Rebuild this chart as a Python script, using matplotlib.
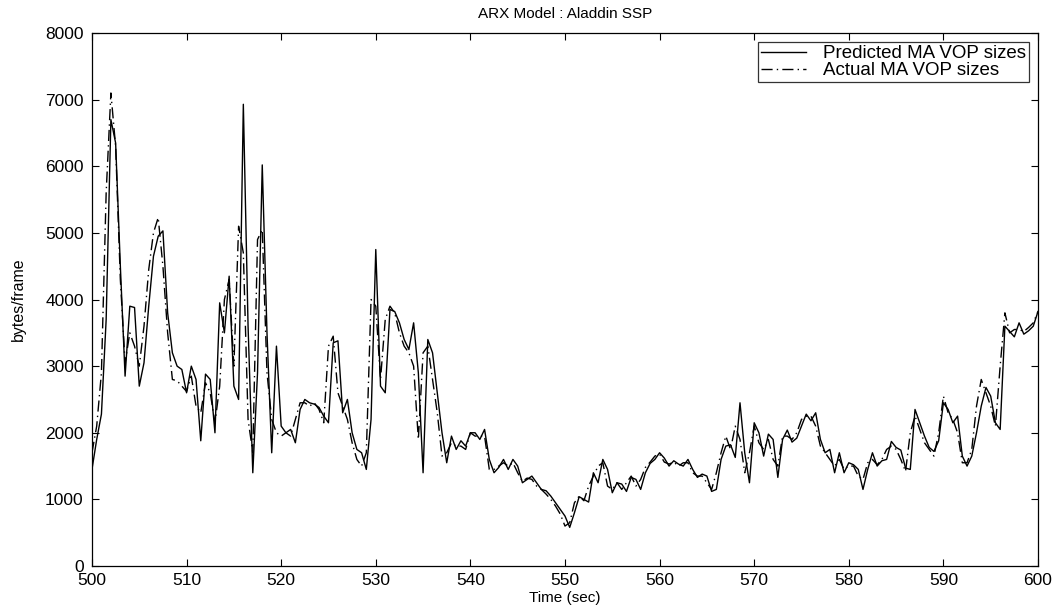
import numpy as np
import matplotlib
matplotlib.use("Agg")
from matplotlib import pyplot as plt

plt.rcParams['font.family'] = ['Liberation Sans', 'DejaVu Sans']

# time axis: one sample every half second
t_start, t_end, t_step = 500, 600, 0.5

predicted = [
    1450, 1900, 2280, 3700, 6700, 6350, 4500, 2850, 3900, 3880,
    2700, 3050, 3900, 4650, 4950, 5030, 3800, 3200, 3000, 2950,
    2600, 3000, 2800, 1880, 2880, 2800, 2000, 3950, 3500, 4350,
    2700, 2500, 6930, 3600, 1400, 2900, 6020, 3500, 1700, 3300,
    2100, 2000, 2050, 1850, 2350, 2500, 2450, 2430, 2380, 2250,
    2150, 3350, 3380, 2300, 2500, 2000, 1750, 1700, 1450, 2200,
    4750, 2700, 2600, 3850, 3820, 3650, 3400, 3250, 3650, 2900,
    1400, 3400, 3200, 2600, 2000, 1550, 1950, 1750, 1880, 1800,
    2000, 2000, 1900, 2050, 1600, 1400, 1480, 1600, 1450, 1600,
    1500, 1250, 1300, 1350, 1250, 1150, 1130, 1050, 950, 850,
    750, 580, 800, 1040, 1000, 960, 1400, 1250, 1600, 1450,
    1100, 1250, 1230, 1120, 1330, 1300, 1150, 1400, 1540, 1600,
    1700, 1620, 1500, 1580, 1530, 1500, 1600, 1450, 1330, 1380,
    1350, 1120, 1150, 1600, 1800, 1820, 1630, 2450, 1700, 1250,
    2150, 2000, 1650, 1980, 1900, 1330, 1900, 2040, 1860, 1920,
    2100, 2280, 2180, 2300, 1900, 1700, 1750, 1400, 1700, 1400,
    1550, 1520, 1450, 1150, 1450, 1700, 1500, 1580, 1600, 1870,
    1780, 1740, 1470, 1450, 2350, 2150, 1950, 1780, 1720, 1880,
    2450, 2350, 2150, 2250, 1650, 1500, 1650, 2000, 2400, 2680,
    2550, 2150, 2050, 3600, 3520, 3440, 3650, 3480, 3530, 3600,
    3820,
]

actual = [
    1700, 2100, 2900, 5600, 7100, 6300, 4300, 3050, 3500, 3300,
    3000, 3600, 4450, 5000, 5230, 4500, 3500, 2800, 2780, 2700,
    2620, 2850, 2400, 2300, 2750, 2600, 2150, 2700, 4000, 4300,
    3000, 5100, 4700, 2200, 1700, 4900, 5050, 2900, 2200, 2000,
    1950, 2000, 1950, 2200, 2450, 2450, 2400, 2450, 2350, 2150,
    3300, 3450, 2600, 2400, 2200, 1850, 1600, 1500, 1700, 4000,
    3900, 2800, 3700, 3900, 3800, 3500, 3300, 3200, 3000, 1900,
    3200, 3300, 2800, 2300, 1650, 1700, 1850, 1800, 1800, 1750,
    2000, 1950, 1950, 1950, 1450, 1450, 1500, 1550, 1500, 1550,
    1400, 1270, 1320, 1300, 1200, 1150, 1080, 1000, 900, 780,
    600, 650, 950, 1050, 980, 1200, 1350, 1500, 1550, 1200,
    1150, 1250, 1150, 1250, 1350, 1200, 1300, 1480, 1560, 1650,
    1680, 1560, 1530, 1560, 1500, 1550, 1550, 1400, 1350, 1350,
    1250, 1150, 1400, 1700, 1950, 1750, 2100, 1900, 1400, 1700,
    2100, 1850, 1750, 1900, 1600, 1500, 1950, 1950, 1900, 2000,
    2200, 2250, 2250, 2100, 1800, 1700, 1600, 1500, 1600, 1450,
    1500, 1500, 1350, 1300, 1550, 1600, 1520, 1600, 1750, 1800,
    1750, 1600, 1420, 2000, 2250, 2050, 1850, 1750, 1650, 2000,
    2550, 2300, 2200, 2000, 1550, 1550, 1750, 2400, 2800, 2600,
    2400, 2100, 3000, 3800, 3500, 3550, 3550, 3520, 3580, 3650,
    3820,
]

t = np.arange(t_start, t_end + t_step / 2, t_step)

fig = plt.figure(figsize=(10.62, 6.11), dpi=100)
ax = fig.add_axes([0.0866, 0.0736, 0.8908, 0.8724])

ax.plot(t, predicted, color='black', lw=1.0, ls='-', label='Predicted MA VOP sizes')
ax.plot(t, actual, color='black', lw=1.0, ls=(0, (8, 3, 1, 3)), label='Actual MA VOP sizes')

ax.set_xlim(500, 600)
ax.set_ylim(0, 8000)
ax.set_xticks(np.arange(500, 601, 10))
ax.set_yticks(np.arange(0, 8001, 1000))
ax.tick_params(direction='in', top=True, right=True, length=5, width=0.8, labelsize=12.5)
ax.tick_params(axis='x', pad=5)
ax.tick_params(axis='y', pad=6)
for s in ax.spines.values():
    s.set_linewidth(0.9)

ax.set_title('ARX Model : Aladdin SSP', fontsize=11, pad=11)
ax.set_xlabel('Time (sec)', fontsize=11, labelpad=2)
ax.set_ylabel('bytes/frame', fontsize=11.5, labelpad=14)

leg = ax.legend(loc='upper right', fontsize=13.5, frameon=True, fancybox=False,
                handlelength=2.4, borderpad=0.15, labelspacing=0.0,
                borderaxespad=0.5, handletextpad=0.9)
leg.get_frame().set_edgecolor('black')
leg.get_frame().set_linewidth(0.9)

fig.savefig('out.png', dpi=100)
